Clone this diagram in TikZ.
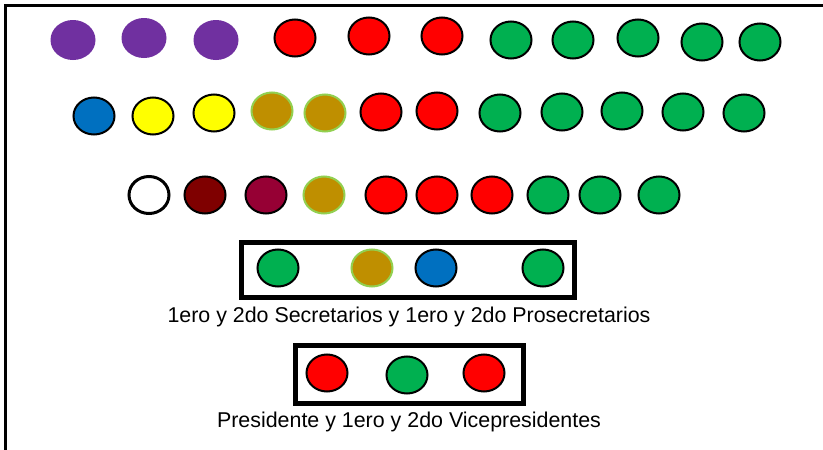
\documentclass[tikz,border=0pt]{standalone}
\usepackage{fontspec}
\setmainfont{Liberation Sans}
\usetikzlibrary{shapes.geometric}
\definecolor{cpurple}{HTML}{7030A0}
\definecolor{cred}{HTML}{FF0000}
\definecolor{cgreen}{HTML}{00B050}
\definecolor{cblue}{HTML}{0070C0}
\definecolor{cyellow}{HTML}{FFFF00}
\definecolor{cgold}{HTML}{BF8F00}
\definecolor{cdarkred}{HTML}{7F0000}
\definecolor{ccrimson}{HTML}{960034}
\definecolor{clime}{HTML}{92D050}
\tikzset{
  seat/.style={ellipse, inner sep=0pt, minimum width=41pt, minimum height=37pt, draw=black, line width=2pt},
  purpleseat/.style={ellipse, inner sep=0pt, minimum width=45pt, minimum height=40pt, fill=cpurple},
  redseat/.style={seat, fill=cred},
  greenseat/.style={seat, fill=cgreen},
  blueseat/.style={seat, fill=cblue},
  yellowseat/.style={seat, fill=cyellow},
  goldseat/.style={seat, fill=cgold, draw=clime},
  darkredseat/.style={seat, fill=cdarkred},
  crimsonseat/.style={seat, fill=ccrimson},
  whiteseat/.style={seat, fill=white, line width=3pt, minimum width=40pt, minimum height=37pt},
  panel/.style={rectangle, draw=black, line width=5pt, inner sep=0pt},
  caption/.style={anchor=base, inner sep=0pt, font=\fontsize{21.4}{25}\selectfont}
}
\begin{document}
\begin{tikzpicture}[x=1pt, y=-1pt]
\useasboundingbox (0,0) rectangle (823,450);
\fill[white] (0,0) rectangle (823,450);
% frame
\draw[line width=3pt] (5,450) -- (5,5) -- (823,5);
% row 1
\node[purpleseat] (p1) at (73,40) {};
\node[purpleseat] (p2) at (144,38) {};
\node[purpleseat] (p3) at (216,40) {};
\node[redseat] (r1a) at (295,38) {};
\node[redseat] (r1b) at (369,36) {};
\node[redseat] (r1c) at (442,36) {};
\node[greenseat] (g1a) at (511,40) {};
\node[greenseat] (g1b) at (573,40) {};
\node[greenseat] (g1c) at (638,38) {};
\node[greenseat] (g1d) at (702,42) {};
\node[greenseat] (g1e) at (760,42) {};
% row 2
\node[blueseat] (b2) at (94,116) {};
\node[yellowseat] (y2a) at (153,116) {};
\node[yellowseat] (y2b) at (214,113) {};
\node[goldseat] (o2a) at (272,111) {};
\node[goldseat] (o2b) at (325,113) {};
\node[redseat] (r2a) at (381,112) {};
\node[redseat] (r2b) at (437,111) {};
\node[greenseat] (g2a) at (500,113) {};
\node[greenseat] (g2b) at (562,112) {};
\node[greenseat] (g2c) at (622,111) {};
\node[greenseat] (g2d) at (683,112) {};
\node[greenseat] (g2e) at (744,113) {};
% row 3
\node[whiteseat] (w3) at (149,195) {};
\node[darkredseat] (d3) at (205,195) {};
\node[crimsonseat] (c3) at (266,195) {};
\node[goldseat] (o3) at (324,195) {};
\node[redseat] (r3a) at (386,195) {};
\node[redseat] (r3b) at (437,195) {};
\node[redseat] (r3c) at (492,195) {};
\node[greenseat] (g3a) at (548,195) {};
\node[greenseat] (g3b) at (600,195) {};
\node[greenseat] (g3c) at (659,195) {};
% secretaries box
\node[panel, minimum width=333.5pt, minimum height=55pt] (box1) at (407.75,270) {};
\node[greenseat] (s1) at (278,268) {};
\node[goldseat] (s2) at (372,268) {};
\node[blueseat] (s3) at (436,268) {};
\node[greenseat] (s4) at (543,268) {};
\node[caption] (t1) at (409,322) {1ero y 2do Secretarios y 1ero y 2do Prosecretarios};
% presidency box
\node[panel, minimum width=228pt, minimum height=58pt] (box2) at (409,374.5) {};
\node[redseat] (v1) at (327,373) {};
\node[greenseat] (v2) at (407,375) {};
\node[redseat] (v3) at (484,373) {};
\node[caption] (t2) at (409,427) {Presidente y 1ero y 2do Vicepresidentes};
\end{tikzpicture}
\end{document}
